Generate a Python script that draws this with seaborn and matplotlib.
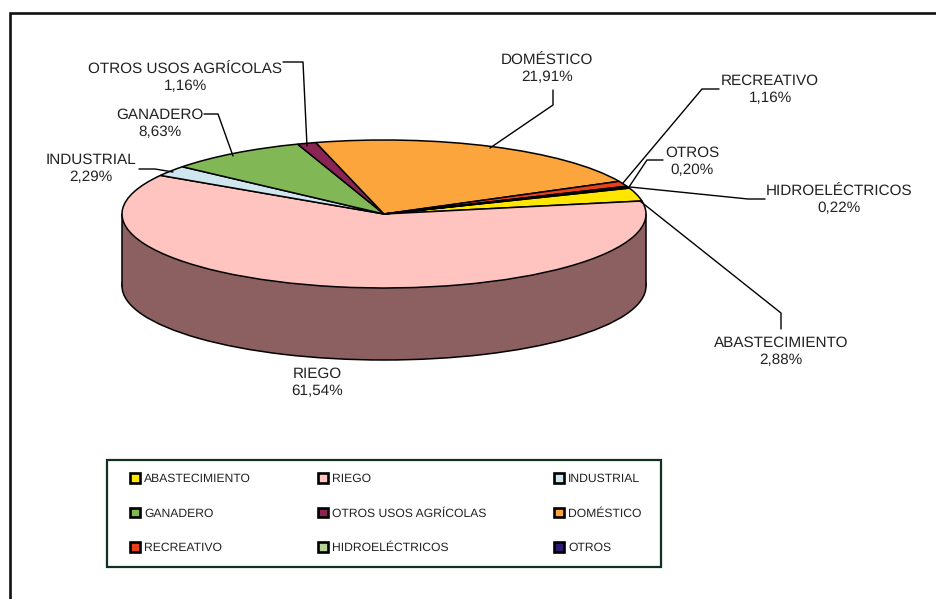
import matplotlib
matplotlib.use("Agg")
import matplotlib.pyplot as plt
import numpy as np
import pandas as pd
import seaborn as sns
from matplotlib.patches import Patch, Rectangle

categories = ["ABASTECIMIENTO", "RIEGO", "INDUSTRIAL", "GANADERO", "OTROS USOS AGRÍCOLAS",
              "DOMÉSTICO", "RECREATIVO", "HIDROELÉCTRICOS", "OTROS"]
percent = [2.88, 61.54, 2.29, 8.63, 1.16, 21.91, 1.16, 0.22, 0.20]
colors = ["#FFE600", "#FFC4C0", "#CFE6EE", "#82B755", "#8A2452", "#FBA53C", "#E8401C", "#B5D29A", "#2E1A6E"]
side_color = "#8C6060"

W, H = 936, 599
CX, CY, RX, RY, DEPTH = 384, 214, 262, 74, 72

# where each label sits and how its leader line runs (pixels)
label_pos = [(781, 351.5), (317, 382.5), (91, 168.5), (160, 123.5), (185, 77.5),
             (547, 68.5), (770, 89.5), (839, 199.5), (692, 161.5)]
leaders = [
    [(640, 201), (781, 313), (781, 329)],
    None,
    [(139, 169), (155, 169), (173, 172)],
    [(204, 114), (218, 114), (233, 156)],
    [(283, 62), (303, 62), (307, 146)],
    [(553, 90), (553, 105), (490, 148)],
    [(623, 183), (702, 89), (719, 89)],
    [(630, 187), (748, 199), (765, 199)],
    [(629, 187), (647, 160), (663, 160)],
]

sns.set_theme(style="white")
plt.rcParams["font.family"] = ["Liberation Sans", "DejaVu Sans"]
plt.rcParams["text.hinting"] = "no_hinting"

fig = plt.figure(figsize=(W / 100, H / 100), dpi=100)


def px_axes():
    return fig.add_axes([(CX - RX) / W, 1 - (CY + RY) / H, 2 * RX / W, 2 * RY / H])


# side of the cylinder first, then the top ellipse over it
ax_side = px_axes()
ax_side.pie([1], colors=[side_color], radius=1, center=(0, -DEPTH / RY),
            wedgeprops={"edgecolor": "black", "linewidth": 1.1})
xs = np.linspace(-1, 1, 2)
ax_side.fill_between(xs, -DEPTH / RY, 0, color=side_color, lw=0)
ax_side.plot([-1, -1], [-DEPTH / RY, 0], color="black", lw=1.1)
ax_side.plot([1, 1], [-DEPTH / RY, 0], color="black", lw=1.1)
ax_side.set_aspect("auto")
ax_side.set_xlim(-1, 1)
ax_side.set_ylim(-1, 1)
for sp in ax_side.patches + ax_side.lines + ax_side.collections:
    sp.set_clip_on(False)
ax_side.axis("off")

ax = px_axes()
wedges, _ = ax.pie(percent, colors=colors, startangle=20.5, counterclock=False, radius=1,
                   wedgeprops={"edgecolor": "black", "linewidth": 1.1})
ax.set_aspect("auto")
ax.set_xlim(-1, 1)
ax.set_ylim(-1, 1)
for w in wedges:
    w.set_clip_on(False)
ax.axis("off")

# overlay in image pixels for frame, leaders and labels
ov = fig.add_axes([0, 0, 1, 1], zorder=5)
ov.set_xlim(0, W)
ov.set_ylim(H, 0)
# only the top and left edges of the outer frame are in the picture
ov.plot([9.5, 9.5, W], [H, 13, 13], color="#111111", lw=1.9, solid_joinstyle="miter")
ov.add_patch(Rectangle((106.5, 459.5), 554, 107, fill=False, edgecolor="#12301F", lw=1.6))

for pts in leaders:
    if pts is None:
        continue
    seg = pd.DataFrame(pts, columns=["x", "y"])
    sns.lineplot(data=seg, x="x", y="y", ax=ov, color="black", lw=1.0, sort=False, estimator=None)
ov.axis("off")

for name, val, (x, y) in zip(categories, percent, label_pos):
    txt = f"{name}\n{val:.2f}%".replace(".", ",")
    ov.text(x, y, txt, ha="center", va="center", fontsize=11.0, color="#222222", linespacing=1.27)

# one frameless legend per column, the columns are unevenly spaced
legend_x = [130, 318, 554]
for i, lx in enumerate(legend_x):
    idx = range(i, 9, 3)
    handles = [Patch(facecolor=colors[j], edgecolor="black", lw=1.9) for j in idx]
    leg = fig.legend(handles, [categories[j] for j in idx],
                     loc="upper left", bbox_to_anchor=(lx / W, 1 - 473 / H), frameon=False,
                     fontsize=8.7, handlelength=0.85, handleheight=0.85, handletextpad=0.33,
                     labelspacing=1.91, borderpad=0, borderaxespad=0,
                     labelcolor="#222222")
    leg.set_zorder(6)

fig.savefig("out.png", dpi=100)
